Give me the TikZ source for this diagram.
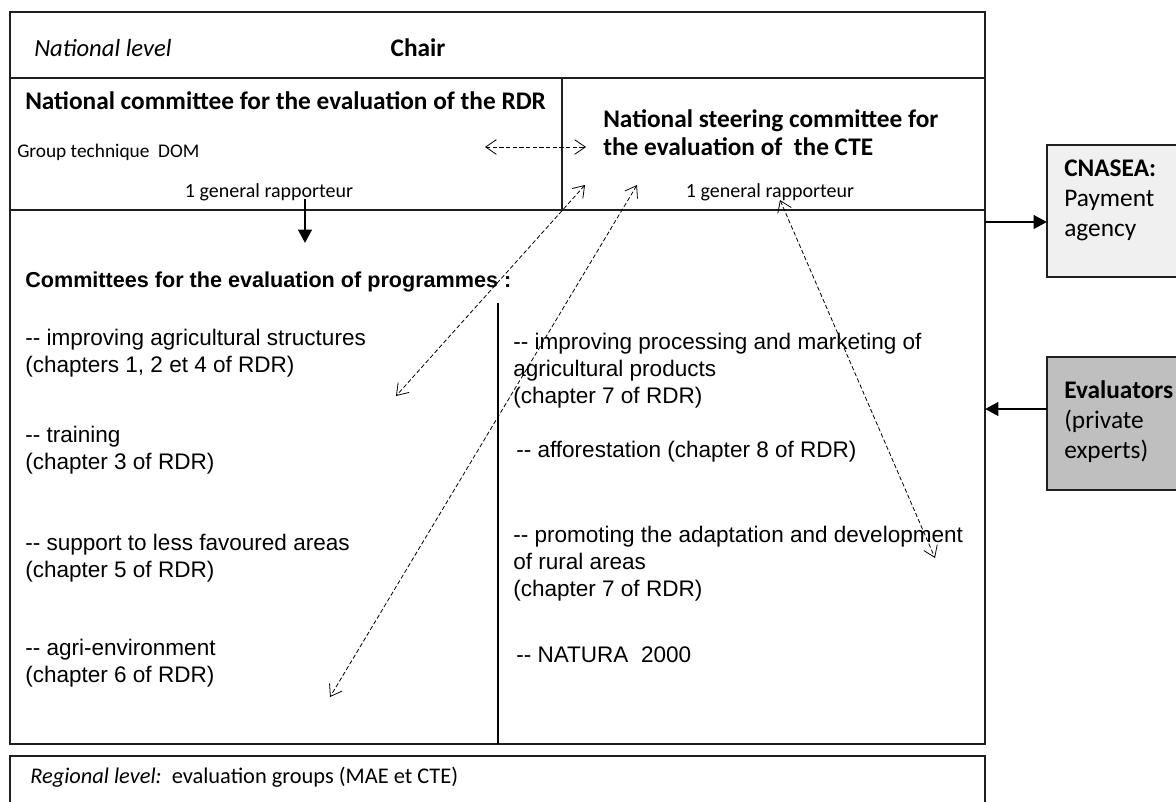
\documentclass[tikz,border=0pt]{standalone}
\usepackage{fontspec}
\setmainfont{Carlito}
\newfontfamily\arialf{Liberation Sans}
\usetikzlibrary{arrows.meta}

\begin{document}
\begin{tikzpicture}[x=0.75pt,y=-0.75pt,
  frame/.style={draw=black!88, line width=1.1pt},
  txt/.style={anchor=west, inner sep=0pt, align=left},
  basetxt/.style={anchor=base west, inner sep=0pt},
  calHead/.style={font=\bfseries\fontsize{19}{21}\selectfont},
  calSmall/.style={font=\fontsize{15}{18}\selectfont},
  arHead/.style={txt, font=\arialf\bfseries\fontsize{16.2}{20}\selectfont},
  arItem/.style={txt, font=\arialf\fontsize{16.9}{20.25}\selectfont},
  sideText/.style={txt, font=\fontsize{19}{22.5}\selectfont},
  solidArrow/.style={line width=2.2pt, -{Triangle[length=10pt,width=10pt]}},
  dashLink/.style={line width=0.6pt, dash pattern=on 3.2pt off 1.8pt,
    {Straight Barb[length=8pt,width=11pt]}-{Straight Barb[length=8pt,width=11pt]}}
]
\clip (0,0) rectangle (1176,801);
\fill[white] (0,0) rectangle (1176,801);

% national level frame and its rows
\draw[frame] (10,12) rectangle (985,744);
\draw[frame] (10,78) -- (985,78);
\draw[frame] (10,210) -- (985,210);
\draw[frame] (562,78) -- (562,210);
\draw[draw=black, line width=1.6pt] (498,303) -- (498,744);

% regional level frame (runs off the lower edge)
\draw[frame] (10,812) -- (10,756) -- (985,756) -- (985,812);

% side boxes
\draw[frame, fill=black!6] (1047,145) rectangle (1195,277);
\draw[frame, fill=black!25] (1047,357) rectangle (1195,490);

% header row
\node[basetxt, font=\itshape\fontsize{18.5}{21}\selectfont] (natlevel) at (34,56) {National level};
\node[basetxt, calHead, anchor=base] (chair) at (418,56) {Chair};

% committees row
\node[basetxt, calHead] (rdr) at (25,109) {National committee for the evaluation of the RDR};
\node[basetxt, font=\fontsize{14.5}{17}\selectfont] (dom) at (17,157) {Group technique\ \ DOM};
\node[basetxt, calSmall, anchor=base] (rapL) at (269,197) {1 general rapporteur};
\node[txt, calHead] (cte) at (603,133) {National steering committee for\\the evaluation of\ \ the CTE};
\node[basetxt, calSmall, anchor=base] (rapR) at (770,197) {1 general rapporteur};

% programme committees
\node[arHead] (prog) at (25,282) {Committees for the evaluation of programmes :};
\node[arItem] (structL) at (25,353.5) {-- improving agricultural structures\\(chapters 1, 2 et 4 of RDR)};
\node[arItem] (trainL) at (25,450.5) {-- training\\(chapter 3 of RDR)};
\node[arItem] (lfaL) at (25,558.5) {-- support to less favoured areas\\(chapter 5 of RDR)};
\node[arItem] (agriL) at (25,663.5) {-- agri-environment\\(chapter 6 of RDR)};
\node[arItem] (procR) at (513,371) {-- improving processing and marketing of\\agricultural products\\(chapter 7 of RDR)};
\node[arItem] (forestR) at (516,452) {-- afforestation (chapter 8 of RDR)};
\node[arItem] (ruralR) at (513,564) {-- promoting the adaptation and development\\of rural areas\\(chapter 7 of RDR)};
\node[arItem] (naturaR) at (516,655) {-- NATURA\ \ 2000};

% regional level
\node[basetxt, font=\fontsize{16.8}{19}\selectfont] (regional) at (30,783) {\textit{Regional level:}\ \ evaluation groups (MAE et CTE)};

% side boxes text
\node[sideText] (cnasea) at (1064,200) {\textbf{CNASEA:}\\Payment\\agency};
\node[sideText] (evalr) at (1064,422) {\textbf{Evaluators}\\(private\\experts)};

% connector end points
\coordinate (downTop) at (305,199);
\coordinate (downEnd) at (305,243);
\coordinate (payOut) at (985,222);
\coordinate (payIn) at (1047,222);
\coordinate (evalOut) at (1047,409);
\coordinate (evalIn) at (985,409);
\coordinate (linkL) at (485,147);
\coordinate (linkR) at (586,147);
\coordinate (aTop) at (585,185);
\coordinate (aEnd) at (396,396);
\coordinate (bTop) at (637,185);
\coordinate (bEnd) at (330,697);
\coordinate (cTop) at (780,200);
\coordinate (cEnd) at (935,558);

% connectors
\draw[solidArrow] (downTop) -- (downEnd);
\draw[solidArrow] (payOut) -- (payIn);
\draw[solidArrow] (evalOut) -- (evalIn);
\draw[dashLink] (linkL) -- (linkR);
\draw[dashLink] (aTop) -- (aEnd);
\draw[dashLink] (bTop) -- (bEnd);
\draw[dashLink] (cTop) -- (cEnd);
\end{tikzpicture}
\end{document}
